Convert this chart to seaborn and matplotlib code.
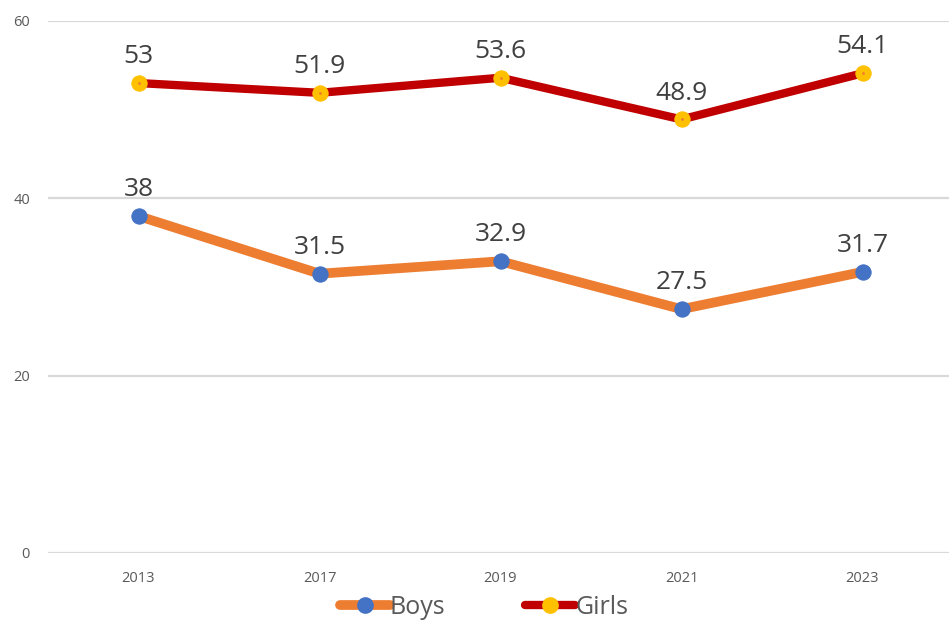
import matplotlib
matplotlib.use("Agg")
import matplotlib.pyplot as plt
from matplotlib.lines import Line2D
import seaborn as sns
import pandas as pd

years = ["2013", "2017", "2019", "2021", "2023"]
boys = [38, 31.5, 32.9, 27.5, 31.7]
girls = [53, 51.9, 53.6, 48.9, 54.1]

sns.set_theme(style="white")
plt.rcParams['font.family'] = ['Open Sans', 'DejaVu Sans']

df = pd.DataFrame({"year": years, "Boys": boys, "Girls": girls})

fig = plt.figure(figsize=(9.49, 6.22), dpi=100)
ax = fig.add_axes([48 / 949, 69 / 622, 905 / 949, 532 / 622])

for y in [0, 20, 40, 60]:
    ax.axhline(y, color="#D9D9D9", lw=1.6, zorder=0)

sns.lineplot(data=df, x="year", y="Boys", ax=ax, color="#ED7D31", lw=7,
             marker="o", markersize=11, markerfacecolor="#4472C4",
             markeredgecolor="#4472C4", solid_capstyle="round")
sns.lineplot(data=df, x="year", y="Girls", ax=ax, color="#C00000", lw=6,
             marker="o", markersize=11, markerfacecolor="#FFC000",
             markeredgecolor="#FFC000", solid_capstyle="round")
sns.scatterplot(data=df, x="year", y="Girls", ax=ax, color="#ED7D31", s=4,
                linewidth=0, zorder=5)

for col in ["Boys", "Girls"]:
    for i, v in enumerate(df[col]):
        ax.annotate(f"{v:g}", (i, v), xytext=(0, 10), textcoords="offset points",
                    ha="center", va="bottom", fontsize=19, color="#404040")

ax.set_xlim(-0.5, 4.5)
ax.set_ylim(0, 60)
ax.set_yticks([0, 20, 40, 60])
ax.tick_params(axis="both", length=0, labelsize=10.5, labelcolor="#595959")
ax.tick_params(axis="y", pad=13)
ax.tick_params(axis="x", pad=13)
ax.set_xlabel("")
ax.set_ylabel("")
sns.despine(ax=ax, left=True, bottom=True)

handles = [
    Line2D([], [], color="#ED7D31", lw=7, marker="o", markersize=11,
           markerfacecolor="#4472C4", markeredgecolor="#4472C4", solid_capstyle="round"),
    Line2D([], [], color="#C00000", lw=6, marker="o", markersize=11,
           markerfacecolor="#FFC000", markeredgecolor="#FFC000", solid_capstyle="round"),
]
fig.legend(handles, ["Boys", "Girls"], loc="center", bbox_to_anchor=(0.51, 0.024),
           ncol=2, frameon=False, fontsize=18, handlelength=2.0, handletextpad=0.0,
           columnspacing=3.2, labelcolor="#595959")

fig.savefig("out.png", dpi=100)
